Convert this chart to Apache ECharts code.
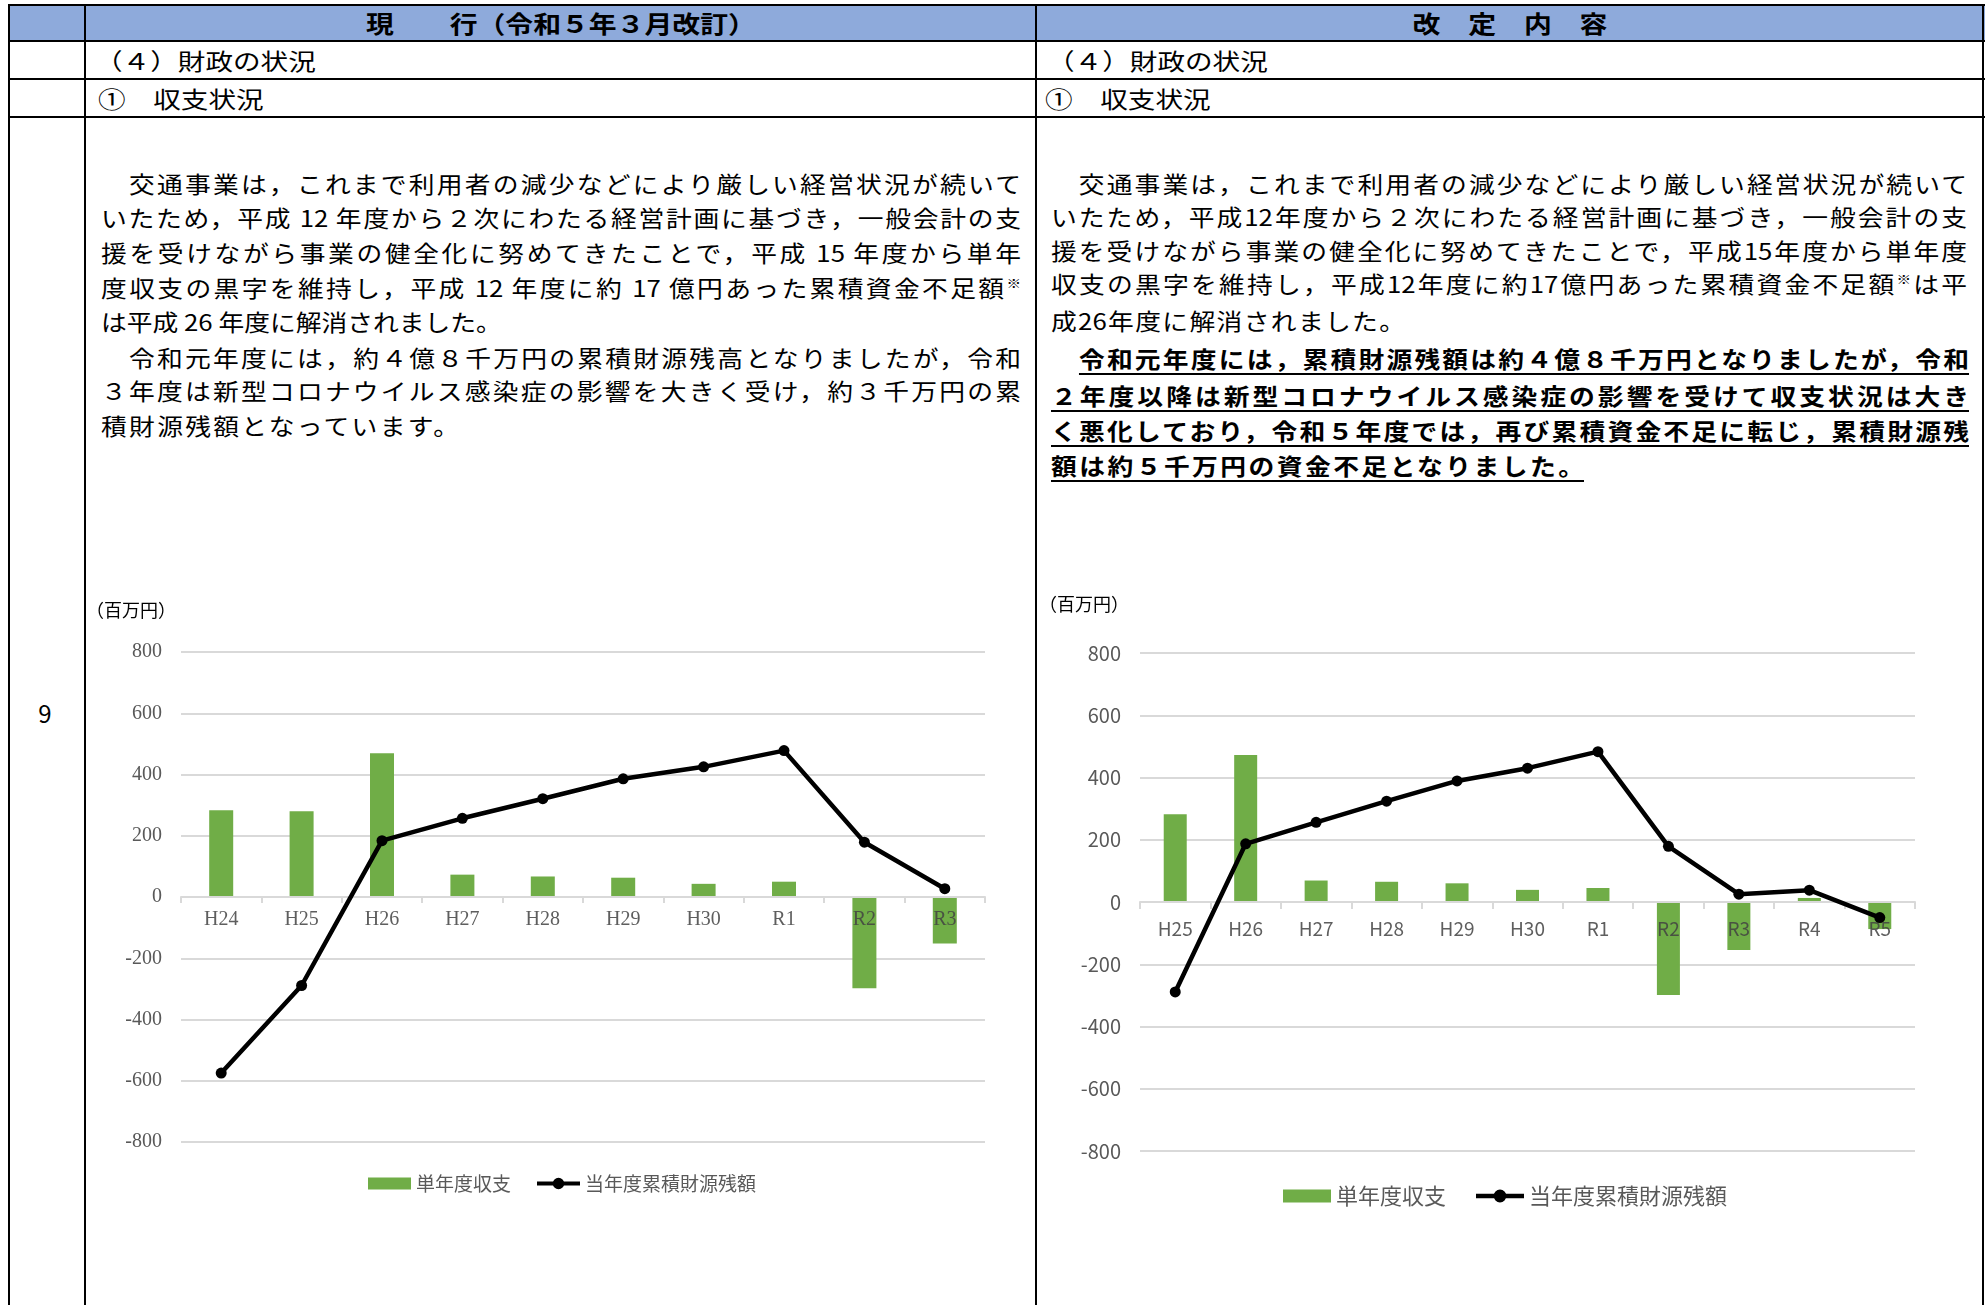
<!DOCTYPE html>
<html lang="ja"><head><meta charset="utf-8"><title>財政の状況</title>
<script src="https://cdn.jsdelivr.net/npm/echarts@6.0.0/dist/echarts.min.js"></script>
<style>
html,body{margin:0;padding:0;background:#fff;}
body{position:relative;width:1986px;height:1305px;overflow:hidden;font-family:"Noto Sans CJK JP","Noto Sans",sans-serif;color:#000;}
.hl{position:absolute;height:2px;background:#000;left:8px;width:1977px;}
.vl{position:absolute;width:2px;background:#000;top:4px;height:1301px;}
.cell{position:absolute;white-space:nowrap;font-size:23px;line-height:30px;height:30px;transform:scaleX(1.2);transform-origin:0 50%;}
.hdr{position:absolute;white-space:nowrap;line-height:30px;height:30px;text-align:center;}
.hdr span{display:inline-block;font-size:24px;font-weight:bold;transform:scaleX(1.16);}
.pl{position:absolute;white-space:nowrap;font-size:23px;line-height:34px;height:34px;text-align:justify;text-align-last:justify;transform:scaleX(1.12);transform-origin:0 50%;}
.pl.b{font-weight:bold;}
.u{text-decoration:underline;text-decoration-thickness:2px;text-underline-offset:5px;}
sup{font-size:13px;font-weight:bold;line-height:0;vertical-align:9px;}
#chart{position:absolute;left:0;top:0;width:1986px;height:1305px;z-index:2;}
</style></head>
<body>
<div style="position:absolute;left:8px;top:4px;width:1977px;height:37px;background:#8eaadb;"></div>
<div class="hl" style="top:4px"></div>
<div class="hl" style="top:40px"></div>
<div class="hl" style="top:78px"></div>
<div class="hl" style="top:116px"></div>
<div class="vl" style="left:8px"></div>
<div class="vl" style="left:84px"></div>
<div class="vl" style="left:1035px"></div>
<div class="vl" style="left:1982px"></div>

<div class="hdr" style="left:86px;width:949px;top:8px"><span>現　　行（令和５年３月改訂）</span></div>
<div class="hdr" style="left:1037px;width:945px;top:8px"><span>改　定　内　容</span></div>

<div class="cell" style="left:95px;top:45px">（４）財政の状況</div>
<div class="cell" style="left:98px;top:83px">①　収支状況</div>
<div class="cell" style="left:1047px;top:45px">（４）財政の状況</div>
<div class="cell" style="left:1045px;top:83px">①　収支状況</div>

<div style="position:absolute;left:30px;top:697px;width:30px;text-align:center;font-size:24px;line-height:32px;">9</div>

<div id="paras"></div>
<div id="chart"></div>

<script>
// ---- chart data ----
const cats1 = ['H24','H25','H26','H27','H28','H29','H30','R1','R2','R3'];
const bal1  = [283, 280, 469, 73, 67, 63, 43, 50, -298, -152];
const cum1  = [-575, -289, 184, 257, 321, 386, 425, 478, 179, 27];

const cats2 = ['H25','H26','H27','H28','H29','H30','R1','R2','R3','R4','R5'];
const bal2  = [282, 472, 69, 65, 60, 39, 45, -299, -154, 13, -87];
const cum2  = [-289, 187, 256, 324, 389, 430, 483, 179, 25, 38, -50];

const seriesNames = ['単年度収支', '当年度累積財源残額'];
const unitLabel = '（百万円）';

// ---- paragraph text ----
const SUP = '<sup>※</sup>';
const leftLines = [
  ['　交通事業は，これまで利用者の減少などにより厳しい経営状況が続いて', 101, 1021, 183],
  ['いたため，平成 12 年度から２次にわたる経営計画に基づき，一般会計の支', 101, 1021, 217],
  ['援を受けながら事業の健全化に努めてきたことで，平成 15 年度から単年', 101, 1021, 252],
  ['度収支の黒字を維持し，平成 12 年度に約 17 億円あった累積資金不足額' + SUP, 101, 1021, 287],
  ['は平成 26 年度に解消されました。', 101, 462, 321],
  ['　令和元年度には，約４億８千万円の累積財源残高となりましたが，令和', 101, 1021, 357],
  ['３年度は新型コロナウイルス感染症の影響を大きく受け，約３千万円の累', 101, 1021, 390],
  ['積財源残額となっています。', 101, 459, 425]
];
const rightLines = [
  ['　交通事業は，これまで利用者の減少などにより厳しい経営状況が続いて', 1051, 1967, 183, 0],
  ['いたため，平成12年度から２次にわたる経営計画に基づき，一般会計の支', 1051, 1967, 216, 0],
  ['援を受けながら事業の健全化に努めてきたことで，平成15年度から単年度', 1051, 1967, 250, 0],
  ['収支の黒字を維持し，平成12年度に約17億円あった累積資金不足額' + SUP + 'は平', 1051, 1967, 283, 0],
  ['成26年度に解消されました。', 1051, 1405, 320, 0],
  ['　<span class="u">令和元年度には，累積財源残額は約４億８千万円となりましたが，令和</span>', 1051, 1969, 358, 1],
  ['<span class="u">２年度以降は新型コロナウイルス感染症の影響を受けて収支状況は大き</span>', 1051, 1969, 395, 1],
  ['<span class="u">く悪化しており，令和５年度では，再び累積資金不足に転じ，累積財源残</span>', 1051, 1969, 430, 1],
  ['<span class="u">額は約５千万円の資金不足となりました。</span>', 1051, 1584, 465, 1]
];
const SX = 1.12;
const paras = document.getElementById('paras');
function addLines(lines) {
  lines.forEach(function (l) {
    const d = document.createElement('div');
    d.className = 'pl' + (l[4] ? ' b' : '');
    d.style.left = l[1] + 'px';
    d.style.width = ((l[2] - l[1]) / SX) + 'px';
    d.style.top = (l[3] - 17) + 'px';
    d.innerHTML = l[0];
    paras.appendChild(d);
  });
}
addLines(leftLines);
addLines(rightLines);

// ---- chart ----
const chart = echarts.init(document.getElementById('chart'), null, {renderer: 'canvas'});
const grey = '#595959';
const labelGrey = 'rgba(66,66,66,0.85)';
const gridCol = '#d9d9d9';
const green = '#70ad47';

function xAxisCfg(idx, cats, font, size, margin, tickLen, off) {
  return {
    type: 'category', gridIndex: idx, data: cats, position: 'bottom', offset: off,
    axisLine: {show: true, onZero: false, lineStyle: {color: gridCol, width: 2}},
    axisTick: {show: true, length: tickLen, lineStyle: {color: gridCol, width: 2}},
    axisLabel: {color: labelGrey, fontFamily: font, fontSize: size, margin: margin, interval: 0},
    splitLine: {show: false}, z: 3
  };
}
function yAxisCfg(idx, font, size) {
  return {
    type: 'value', gridIndex: idx, min: -800, max: 800, interval: 200,
    axisLine: {show: false}, axisTick: {show: false},
    splitLine: {show: true, lineStyle: {color: gridCol, width: 2}},
    axisLabel: {color: grey, fontFamily: font, fontSize: size, margin: 19}
  };
}
function legendCfg(left, top, w, h, gap, size, linePath) {
  return {
    left: left, top: top, orient: 'horizontal', padding: 0,
    itemWidth: w, itemHeight: h, itemGap: gap,
    data: [{name: seriesNames[0], icon: 'rect'}, {name: seriesNames[1], icon: linePath}],
    textStyle: {color: grey, fontSize: size, fontFamily: 'Noto Sans CJK JP'}
  };
}
function barSeries(xi, data, w) {
  return {name: seriesNames[0], type: 'bar', xAxisIndex: xi, yAxisIndex: xi, data: data,
          barWidth: w, itemStyle: {color: green}, z: 2};
}
function lineSeries(xi, data) {
  return {name: seriesNames[1], type: 'line', xAxisIndex: xi, yAxisIndex: xi, data: data,
          symbol: 'circle', symbolSize: 11, showSymbol: true,
          lineStyle: {color: '#000', width: 4.5}, itemStyle: {color: '#000'}, z: 4};
}
// legend line icon: thick bar with a dot in the middle (45 x 12 box)
const lineIcon = 'path://M0,4H45V8H0Z M28.5,6A6,6,0,1,1,16.5,6A6,6,0,1,1,28.5,6Z';

chart.setOption({
  animation: false,
  backgroundColor: 'transparent',
  title: [
    {text: unitLabel, left: 86, top: 601, padding: 0,
     textStyle: {fontSize: 18, fontWeight: 'normal', color: '#000', fontFamily: 'Noto Sans CJK JP'}},
    {text: unitLabel, left: 1039, top: 595, padding: 0,
     textStyle: {fontSize: 18, fontWeight: 'normal', color: '#000', fontFamily: 'Noto Sans CJK JP'}}
  ],
  legend: [
    legendCfg(368, 1174, 43, 12, 26, 19, lineIcon),
    legendCfg(1283, 1185, 48, 13, 30, 22, lineIcon)
  ],
  grid: [
    {left: 181, top: 652, width: 804, height: 490, containLabel: false, outerBoundsMode: 'none'},
    {left: 1140, top: 653, width: 775, height: 498, containLabel: false, outerBoundsMode: 'none'}
  ],
  xAxis: [
    xAxisCfg(0, cats1, 'Liberation Serif', 20, 13, 6, -245),
    xAxisCfg(1, cats2, 'Noto Sans CJK JP', 19, 17, 7, -249)
  ],
  yAxis: [
    yAxisCfg(0, 'Liberation Serif', 20),
    yAxisCfg(1, 'Noto Sans CJK JP', 20)
  ],
  series: [
    barSeries(0, bal1, 24),
    lineSeries(0, cum1),
    barSeries(1, bal2, 23),
    lineSeries(1, cum2)
  ]
});
</script>
</body></html>
